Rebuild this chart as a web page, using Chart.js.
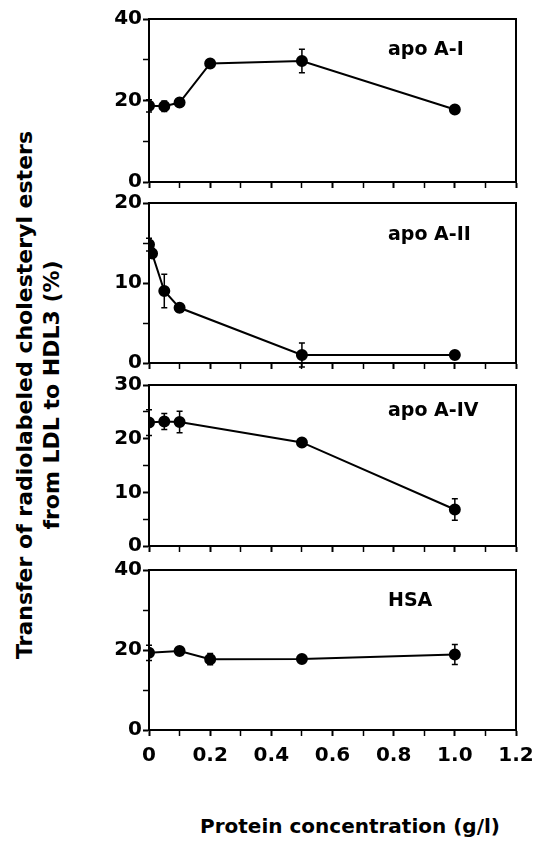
<!DOCTYPE html>
<html>
<head>
<meta charset="utf-8">
<script src="https://cdn.jsdelivr.net/npm/chart.js@4"></script>
<style>
  body { margin: 0; background: #fff; width: 537px; height: 843px; position: relative; overflow: hidden; }
  canvas { position: absolute; }
  .ytitle {
    position: absolute; left: 38px; top: 395px; width: 600px;
    transform: translate(-50%, -50%) rotate(-90deg);
    font: bold 22px "DejaVu Sans"; line-height: 27px; text-align: center; color: #000;
  }
  .xtitle {
    position: absolute; left: 350px; top: 826px; transform: translate(-50%, -50%);
    font: bold 20px "DejaVu Sans"; color: #000; white-space: nowrap;
  }
</style>
</head>
<body>
<canvas id="c1"></canvas>
<canvas id="c2"></canvas>
<canvas id="c3"></canvas>
<canvas id="c4"></canvas>
<div class="ytitle">Transfer of radiolabeled cholesteryl esters<br>from LDL to HDL3 (%)</div>
<div class="xtitle">Protein concentration (g/l)</div>
<script>
// values
const xTickLabels = ['0', '0.2', '0.4', '0.6', '0.8', '1.0', '1.2'];

const apoAI_x = [0, 0.05, 0.1, 0.2, 0.5, 1.0];
const apoAI_y = [18.7, 18.6, 19.5, 29.1, 29.7, 17.8];
const apoAI_err = [1.5, 1.3, 0.6, 0.5, 2.9, 0.5];

const apoAII_x = [0, 0.01, 0.05, 0.1, 0.5, 1.0];
const apoAII_y = [14.8, 13.7, 9.0, 6.9, 1.0, 1.0];
const apoAII_err = [0.8, 0.6, 2.1, 0.5, 1.5, 0.3];

const apoAIV_x = [0, 0.05, 0.1, 0.5, 1.0];
const apoAIV_y = [23.0, 23.2, 23.1, 19.3, 6.8];
const apoAIV_err = [2.4, 1.5, 2.0, 0.4, 2.0];

const hsa_x = [0, 0.1, 0.2, 0.5, 1.0];
const hsa_y = [19.3, 19.75, 17.7, 17.75, 18.9];
const hsa_err = [1.9, 0.4, 1.4, 0.3, 2.5];

Chart.defaults.font.family = '"DejaVu Sans"';
Chart.defaults.font.weight = 'bold';
Chart.defaults.font.size = 20;
Chart.defaults.color = '#000';

// error bars, top/right frame and the panel label
const panelDecor = {
  id: 'panelDecor',
  afterDatasetsDraw(chart, args, opts) {
    const { ctx, chartArea, scales } = chart;
    const pts = chart.data.datasets[0].data;
    ctx.save();
    ctx.strokeStyle = '#000';
    ctx.lineWidth = 1.5;
    pts.forEach((p, i) => {
      const e = opts.errors[i];
      if (!e) return;
      const x = scales.x.getPixelForValue(p.x);
      const yTop = scales.y.getPixelForValue(p.y + e);
      const yBot = scales.y.getPixelForValue(p.y - e);
      ctx.beginPath();
      ctx.moveTo(x, yTop); ctx.lineTo(x, yBot);
      ctx.moveTo(x - 3, yTop); ctx.lineTo(x + 3, yTop);
      ctx.moveTo(x - 3, yBot); ctx.lineTo(x + 3, yBot);
      ctx.stroke();
    });
    ctx.lineWidth = 2;
    ctx.beginPath();
    ctx.moveTo(chartArea.left, chartArea.top);
    ctx.lineTo(chartArea.right, chartArea.top);
    ctx.lineTo(chartArea.right, chartArea.bottom);
    ctx.stroke();
    ctx.fillStyle = '#000';
    ctx.font = 'bold 19px "DejaVu Sans"';
    ctx.textBaseline = 'middle';
    ctx.fillText(opts.label, chartArea.left + 239, chartArea.top + opts.labelY);
    ctx.restore();
  }
};

function makePanel(id, top, height, xs, ys, errs, label, labelY, yMax, yStep, yLabelStep, bottom) {
  const padTop = 14;
  const xAxisH = bottom ? 42 : 14;
  const cv = document.getElementById(id);
  cv.width = 480;
  cv.height = padTop + height + xAxisH;
  cv.style.left = '90px';
  cv.style.top = (top - padTop) + 'px';
  const pts = xs.map((x, i) => ({ x: x, y: ys[i] }));
  return new Chart(cv, {
    type: 'line',
    data: {
      datasets: [{
        data: pts,
        borderColor: '#000',
        backgroundColor: '#000',
        borderWidth: 2,
        pointRadius: 5,
        pointBackgroundColor: '#000',
        tension: 0
      }]
    },
    options: {
      responsive: false,
      animation: false,
      layout: { padding: { top: padTop, right: 54, bottom: 0, left: 0 } },
      plugins: {
        legend: { display: false },
        tooltip: { enabled: false },
        panelDecor: { errors: errs, label: label, labelY: labelY }
      },
      scales: {
        x: {
          type: 'linear', min: 0, max: 1.2,
          grid: {
            drawOnChartArea: false, tickLength: 6, tickColor: '#000',
            tickWidth: (c) => (c.index % 2 === 0 ? 2 : 1.5)
          },
          border: { color: '#000', width: 2 },
          ticks: {
            stepSize: 0.1, maxRotation: 0, autoSkip: false, padding: 8,
            callback: (v, i) => (bottom && i % 2 === 0 ? xTickLabels[i / 2] : '')
          },
          afterFit: (s) => { s.height = xAxisH; }
        },
        y: {
          min: 0, max: yMax,
          grid: {
            drawOnChartArea: false, tickLength: 6, tickColor: '#000',
            tickWidth: (c) => (c.tick && c.tick.value % yLabelStep === 0 ? 2 : 1.5)
          },
          border: { color: '#000', width: 2 },
          ticks: {
            stepSize: yStep, padding: 1, autoSkip: false,
            callback: (v) => (v % yLabelStep === 0 ? String(v) : '')
          },
          afterFit: (s) => { s.width = 59; }
        }
      }
    },
    plugins: [panelDecor]
  });
}

makePanel('c1', 19, 163, apoAI_x, apoAI_y, apoAI_err, 'apo A-I', 31, 40, 10, 20, false);
makePanel('c2', 203, 160, apoAII_x, apoAII_y, apoAII_err, 'apo A-II', 32, 20, 5, 10, false);
makePanel('c3', 385, 161, apoAIV_x, apoAIV_y, apoAIV_err, 'apo A-IV', 26, 30, 5, 10, false);
makePanel('c4', 570, 160, hsa_x, hsa_y, hsa_err, 'HSA', 31, 40, 10, 20, true);
</script>
</body>
</html>
